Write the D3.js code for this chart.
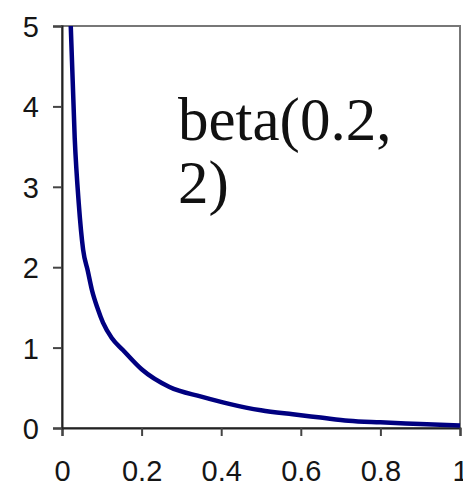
<!DOCTYPE html>
<html>
<head>
<meta charset="utf-8">
<script src="https://cdn.jsdelivr.net/npm/d3@7"></script>
<style>
  body { margin: 0; background: #fff; }
</style>
</head>
<body>
<div id="chart"></div>
<script>
// values
var xs = [0.022, 0.032, 0.042, 0.053, 0.065, 0.075, 0.09, 0.103, 0.125, 0.153, 0.2, 0.27, 0.35, 0.42, 0.5, 0.58, 0.65, 0.72, 0.8, 0.9, 1.0];
var ys = [5.0, 3.6, 2.8, 2.22, 1.95, 1.72, 1.48, 1.31, 1.12, 0.97, 0.73, 0.51, 0.39, 0.3, 0.22, 0.17, 0.13, 0.09, 0.07, 0.05, 0.03];
var xTicks = [0, 0.2, 0.4, 0.6, 0.8, 1];
var yTicks = [0, 1, 2, 3, 4, 5];
var label = ["beta(0.2,", "2)"];

var margin = {top: 26, right: 3, bottom: 61, left: 62},
    width = 463 - margin.left - margin.right,
    height = 489 - margin.top - margin.bottom;

var svg = d3.select("#chart")
    .append("svg")
    .attr("width", 463)
    .attr("height", 489)
    .append("g")
        .attr("transform", "translate(" + margin.left + "," + margin.top + ")");

var x = d3.scaleLinear().domain([0, 1]).range([0, width]);
var y = d3.scaleLinear().domain([0, 5]).range([height, 0]);

// frame
svg.append("rect")
    .attr("x", 0).attr("y", 0)
    .attr("width", width).attr("height", height)
    .attr("fill", "none")
    .attr("stroke", "#777")
    .attr("stroke-width", 2);

var xAxis = svg.append("g")
    .attr("transform", "translate(0," + height + ")")
    .call(d3.axisBottom(x).tickValues(xTicks).tickSize(8).tickPadding(24)
        .tickFormat(d3.format("")));

var yAxis = svg.append("g")
    .call(d3.axisLeft(y).tickValues(yTicks).tickSize(9).tickPadding(14)
        .tickFormat(d3.format("d")));

[xAxis, yAxis].forEach(function(a) {
    a.attr("font-family", "'Liberation Sans', Arial, sans-serif")
     .attr("font-size", 29);
    a.select(".domain").attr("stroke", "#222").attr("stroke-width", 2);
    a.selectAll(".tick line").attr("stroke", "#444").attr("stroke-width", 2);
    a.selectAll(".tick text").attr("fill", "#151515");
});
yAxis.selectAll(".tick text").attr("dy", "0.36em");

var line = d3.line()
    .x(function(d, i) { return x(xs[i]); })
    .y(function(d) { return y(d); })
    .curve(d3.curveMonotoneX);

svg.append("path")
    .datum(ys)
    .attr("d", line)
    .attr("fill", "none")
    .attr("stroke", "#000080")
    .attr("stroke-width", 4.5)
    .attr("stroke-linejoin", "round");

svg.selectAll(".lbl")
    .data(label)
    .enter()
    .append("text")
      .attr("class", "lbl")
      .text(function(d) { return d; })
      .attr("x", 116)
      .attr("y", function(d, i) { return 114 + i * 63; })
      .attr("font-family", "'Liberation Serif', 'Times New Roman', serif")
      .attr("font-size", "61px")
      .attr("fill", "#111");
</script>
</body>
</html>
